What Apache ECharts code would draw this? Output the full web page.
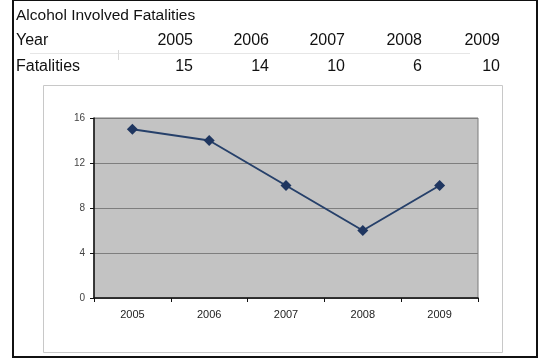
<!DOCTYPE html>
<html>
<head>
<meta charset="utf-8">
<script src="https://cdn.jsdelivr.net/npm/echarts@6/dist/echarts.min.js"></script>
<style>
  html, body { margin: 0; padding: 0; background: #fff; }
  #chart { width: 540px; height: 360px; }
</style>
</head>
<body>
<div id="chart"></div>
<script>
// Alcohol involved fatalities by year
const tableTitle = 'Alcohol Involved Fatalities';
const rowLabels = ['Year', 'Fatalities'];
const years = ['2005', '2006', '2007', '2008', '2009'];
const fatalities = [15, 14, 10, 6, 10];
const yTicks = [0, 4, 8, 12, 16];

const chart = echarts.init(document.getElementById('chart'));
const font = '"Liberation Sans", Arial, sans-serif';
const tableFont = '16px ' + font;

// Table header rows drawn as text above the chart
const colRight = [193, 269, 345, 422, 500];
const tableGraphics = [
  { type: 'text', x: 16, y: 16, style: { text: tableTitle, font: '15.5px ' + font, fill: '#111', verticalAlign: 'middle' } },
  { type: 'text', x: 16, y: 41, style: { text: rowLabels[0], font: tableFont, fill: '#111', verticalAlign: 'middle' } },
  { type: 'text', x: 16, y: 67, style: { text: rowLabels[1], font: tableFont, fill: '#111', verticalAlign: 'middle' } },
  { type: 'line', shape: { x1: 30, y1: 53.5, x2: 470, y2: 53.5 }, style: { stroke: '#e6e6e6', lineWidth: 1 } },
  { type: 'line', shape: { x1: 118.5, y1: 50, x2: 118.5, y2: 60 }, style: { stroke: '#dadada', lineWidth: 1 } }
];
years.forEach((y, i) => {
  tableGraphics.push({ type: 'text', x: colRight[i], y: 41, style: { text: y, font: tableFont, fill: '#111', align: 'right', verticalAlign: 'middle' } });
  tableGraphics.push({ type: 'text', x: colRight[i], y: 67, style: { text: String(fatalities[i]), font: tableFont, fill: '#111', align: 'right', verticalAlign: 'middle' } });
});
// chart frame and outer border
tableGraphics.push({ type: 'rect', shape: { x: 43.5, y: 85.5, width: 459, height: 267 }, style: { fill: 'none', stroke: '#c8c8c8', lineWidth: 1 }, z: -1 });
tableGraphics.push({ type: 'rect', shape: { x: 13, y: 0, width: 524, height: 357 }, style: { fill: 'none', stroke: '#111', lineWidth: 2 } });

chart.setOption({
  animation: false,
  backgroundColor: '#fff',
  grid: {
    left: 94, right: 62, top: 118, bottom: 62,
    show: true, backgroundColor: '#c3c3c3', borderColor: '#7a7a7a', borderWidth: 1
  },
  xAxis: {
    type: 'category',
    data: years,
    boundaryGap: true,
    axisLine: { show: true, lineStyle: { color: '#111', width: 1.5 } },
    axisTick: { show: true, inside: false, length: 4, lineStyle: { color: '#111' } },
    axisLabel: { color: '#222', fontFamily: font, fontSize: 11, margin: 11 }
  },
  yAxis: {
    type: 'value',
    min: 0, max: 16, interval: 4,
    axisLine: { show: true, lineStyle: { color: '#111', width: 1.5 } },
    axisTick: { show: true, length: 4, lineStyle: { color: '#111' } },
    axisLabel: { color: '#444', fontFamily: font, fontSize: 10, margin: 9,
      formatter: v => yTicks.includes(v) ? String(v) : '' },
    splitLine: { show: true, lineStyle: { color: '#7e7e7e', width: 1 } }
  },
  series: [{
    type: 'line',
    data: fatalities,
    symbol: 'diamond',
    symbolSize: 11,
    lineStyle: { color: '#26406a', width: 2 },
    itemStyle: { color: '#1f3660' }
  }],
  graphic: tableGraphics
});
</script>
</body>
</html>
